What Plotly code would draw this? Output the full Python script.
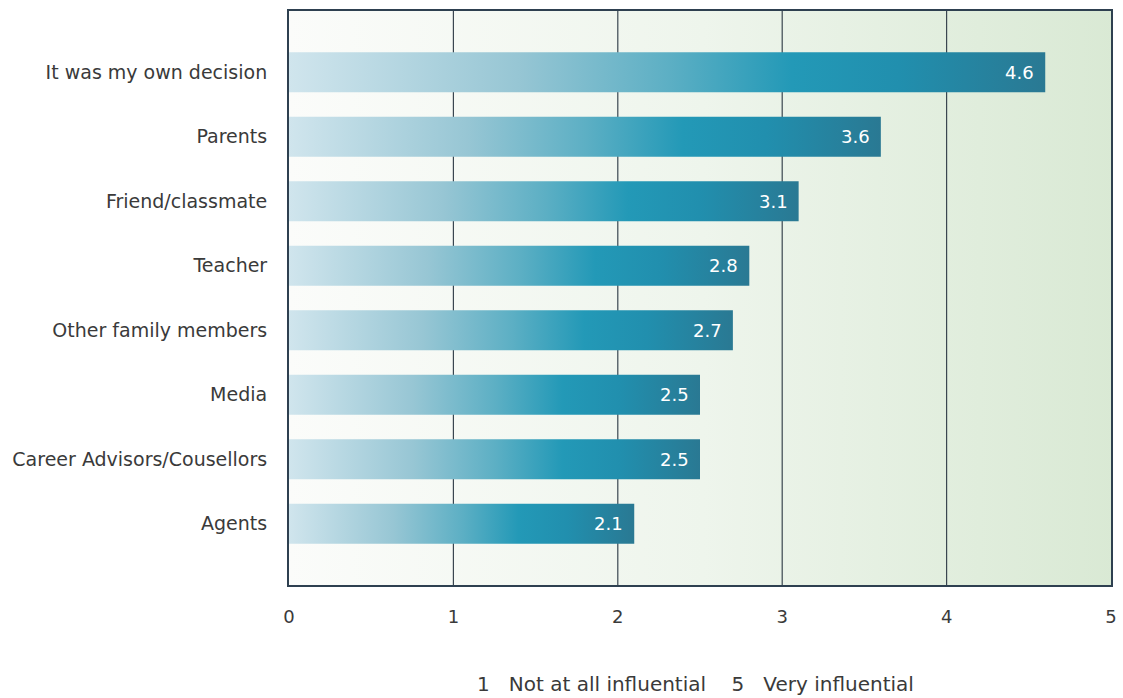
import plotly.graph_objects as go

categories = ["It was my own decision", "Parents", "Friend/classmate", "Teacher",
              "Other family members", "Media", "Career Advisors/Cousellors", "Agents"]
values = [4.6, 3.6, 3.1, 2.8, 2.7, 2.5, 2.5, 2.1]
x_ticks = [0, 1, 2, 3, 4, 5]
footer = "1   Not at all influential    5   Very influential"

FONT = "DejaVu Sans"
TXT = "#3a3a3a"
bar_half = 0.31
y_lo, y_hi = -0.95, 7.95

bar_scale = [[0.0, "#d0e5ed"], [0.3, "#97c6d4"], [0.5, "#5cafc4"], [0.66, "#2399b7"],
             [0.8, "#218fae"], [1.0, "#2a7892"]]
bg_scale = [[0.0, "#fbfcfa"], [0.5, "#eef5ec"], [1.0, "#d9e9d4"]]

fig = go.Figure()

# background gradient
fig.add_trace(go.Scatter(
    x=[0, 5, 5, 0, 0], y=[y_lo, y_lo, y_hi, y_hi, y_lo], mode="lines",
    fill="toself", line=dict(width=0),
    fillgradient=dict(type="horizontal", colorscale=bg_scale, start=0, stop=5),
    hoverinfo="skip", showlegend=False))

# gridlines
for t in x_ticks[1:-1]:
    fig.add_trace(go.Scatter(x=[t, t], y=[y_lo, y_hi], mode="lines",
                             line=dict(color="#3a4650", width=1.2),
                             hoverinfo="skip", showlegend=False))

# bars (gradient runs along each bar)
for i, v in enumerate(values):
    fig.add_trace(go.Scatter(
        x=[0, v, v, 0, 0], y=[i - bar_half, i - bar_half, i + bar_half, i + bar_half, i - bar_half],
        mode="lines", fill="toself", line=dict(width=0),
        fillgradient=dict(type="horizontal", colorscale=bar_scale, start=0, stop=v),
        hoverinfo="skip", showlegend=False))
    fig.add_annotation(x=v, y=i, text=f"{v:.1f}", showarrow=False, xanchor="right",
                       xshift=-9, font=dict(family=FONT, size=18, color="white"))

fig.add_annotation(x=0.494, y=-0.172, xref="paper", yref="paper",
                   text=footer.replace(" ", "&nbsp;"),
                   showarrow=False, xanchor="center", yanchor="middle",
                   font=dict(family=FONT, size=20, color=TXT))

fig.update_xaxes(range=[0, 5], tickvals=x_ticks, showgrid=False, zeroline=False,
                 showline=True, mirror=True, linecolor="#2e4050", linewidth=2,
                 ticks="", ticklabelstandoff=14, layer="above traces",
                 tickfont=dict(family=FONT, size=18, color=TXT))
fig.update_yaxes(range=[y_hi, y_lo], tickvals=list(range(len(categories))), ticktext=categories,
                 showgrid=False, zeroline=False, showline=True, mirror=True,
                 linecolor="#2e4050", linewidth=2, ticks="", ticklabelstandoff=16,
                 layer="above traces",
                 tickfont=dict(family=FONT, size=19, color=TXT))

fig.update_layout(width=1123, height=698, margin=dict(l=289, r=6, t=11, b=113),
                  paper_bgcolor="white", plot_bgcolor="white", showlegend=False)

fig.write_html("out.html")
